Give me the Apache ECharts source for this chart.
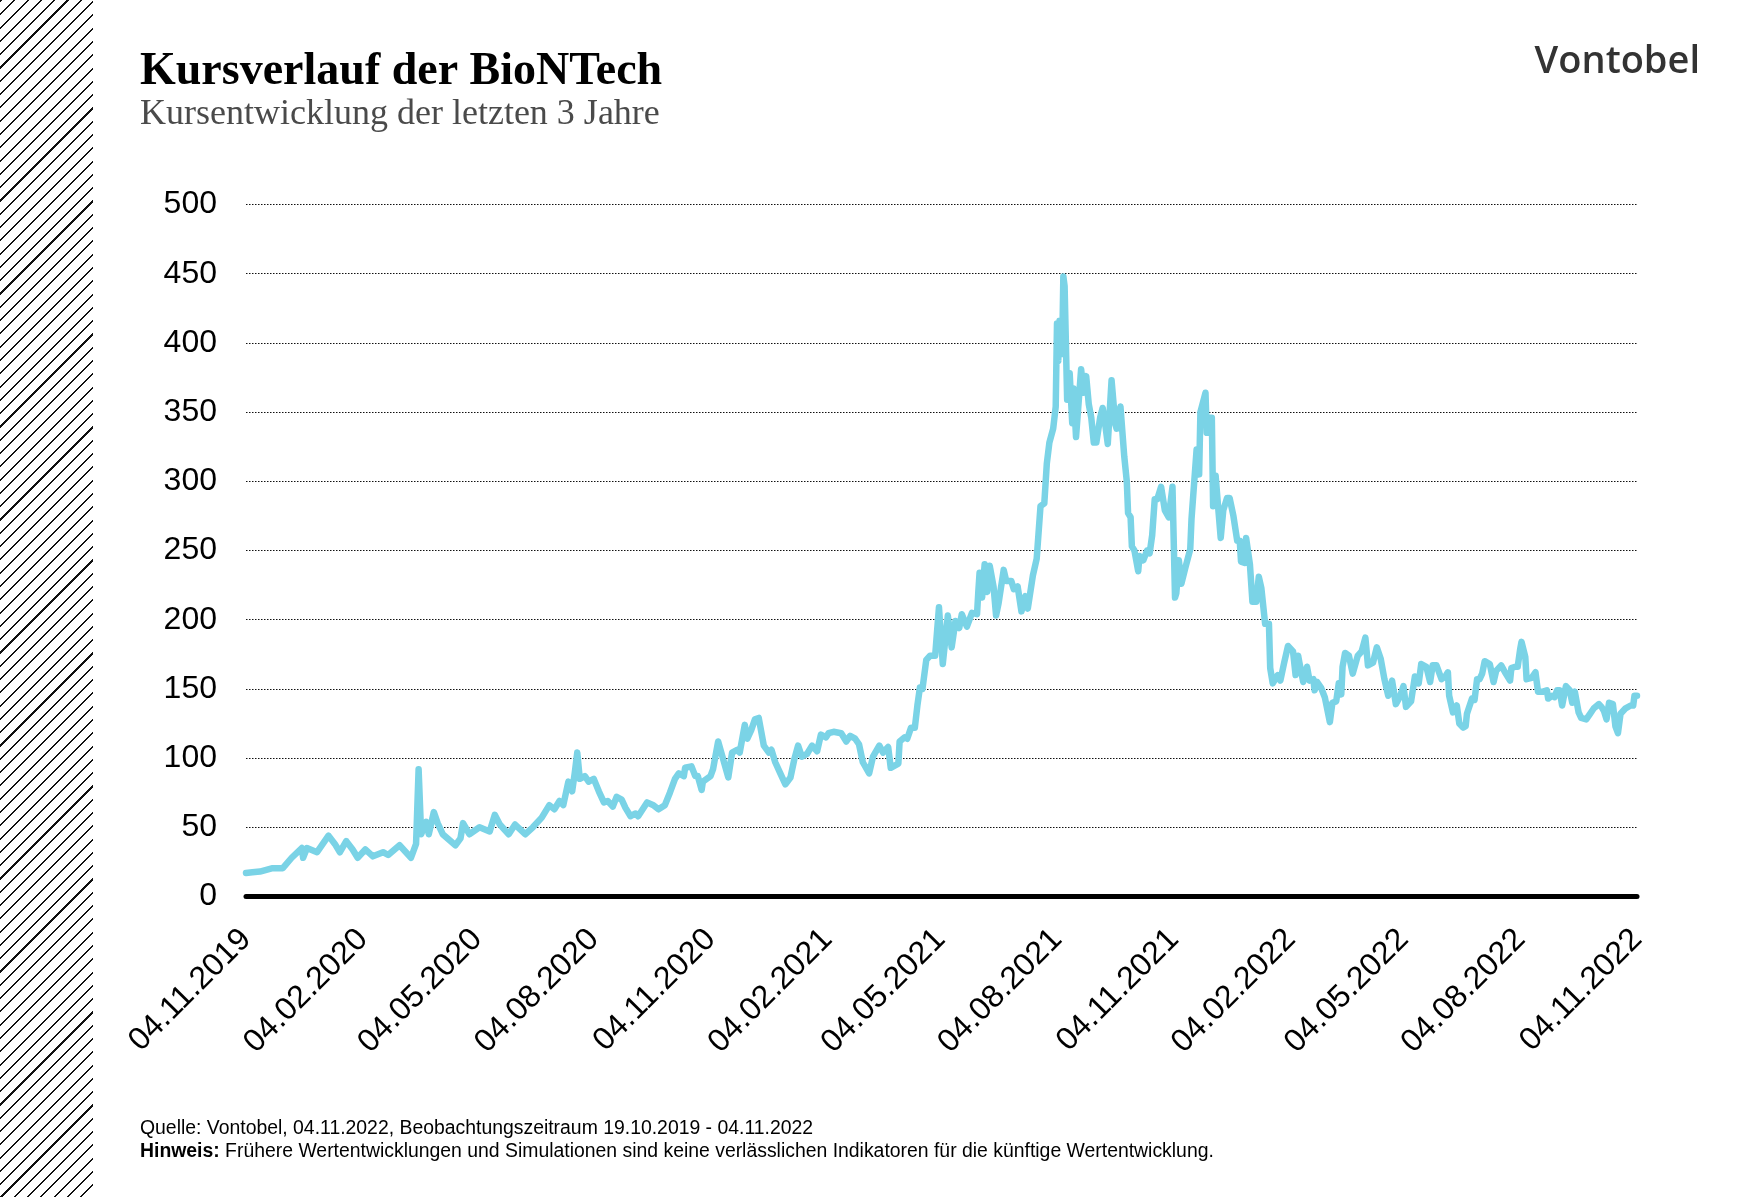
<!DOCTYPE html>
<html lang="de">
<head>
  <meta charset="UTF-8">
  <title>Kursverlauf der BioNTech</title>
  <script src="https://cdn.jsdelivr.net/npm/echarts@6.0.0/dist/echarts.min.js"></script>
  <style>
    html, body {
      margin: 0;
      padding: 0;
      background: #fff;
    }
    #hatch {
      position: absolute;
      left: 0;
      top: 0;
      width: 93px;
      height: 1197px;
      background: repeating-linear-gradient(-45deg, #fff 0, #fff 7.9px, #111 7.9px, #111 9.4px);
    }
    #main {
      position: absolute;
      left: 0;
      top: 0;
      width: 1746px;
      height: 1197px;
    }
  </style>
</head>
<body>
  <div id="hatch"></div>
  <div id="main"></div>

  <script>
    // Tage seit 04.11.2019 und Schlusskurse
    const days = [
      0, 5, 11, 21, 29, 36, 44, 45, 48, 56, 65, 70, 74, 79, 84, 88, 94, 100, 108, 112,
      121, 130, 134, 136, 138, 142, 144, 148, 151, 155, 165, 169, 171, 176, 184, 192, 196, 200, 207, 212,
      220, 226, 233, 239, 243, 247, 250, 254, 257, 259, 261, 263, 267, 270, 274, 278, 282, 285, 289, 292,
      296, 299, 303, 307, 309, 316, 321, 325, 330, 334, 338, 341, 345, 346, 351, 354, 356, 359, 360, 366,
      368, 372, 376, 380, 383, 387, 389, 393, 395, 398, 401, 404, 408, 412, 414, 417, 421, 425, 429, 432,
      435, 438, 442, 446, 450, 453, 457, 459, 463, 469, 473, 476, 480, 483, 486, 491, 494, 499, 502, 506,
      508, 514, 515, 519, 521, 524, 527, 529, 531, 533, 536, 539, 543, 546, 549, 553, 556, 559, 562, 564,
      568, 572, 576, 577, 578, 580, 582, 584, 586, 589, 591, 593, 597, 599, 603, 605, 608, 611, 614, 616,
      620, 623, 626, 629, 631, 633, 636, 638, 639, 640, 641, 643, 644, 645, 647, 649, 651, 652, 654, 658,
      660, 662, 664, 666, 668, 670, 673, 675, 677, 679, 682, 685, 686, 689, 692, 694, 695, 697, 698, 700,
      703, 704, 707, 710, 712, 714, 716, 718, 721, 724, 727, 730, 732, 733, 735, 737, 740, 744, 745, 746,
      749, 751, 752, 756, 757, 759, 761, 762, 764, 766, 768, 770, 773, 775, 778, 781, 783, 784, 787, 788,
      791, 793, 796, 798, 800, 803, 806, 807, 809, 813, 815, 818, 821, 825, 827, 829, 830, 833, 836, 838,
      841, 842, 844, 847, 850, 854, 856, 859, 861, 863, 864, 866, 869, 872, 876, 879, 882, 884, 888, 891,
      894, 897, 900, 903, 906, 909, 912, 914, 918, 921, 924, 926, 930, 933, 935, 938, 942, 945, 947, 948,
      951, 954, 956, 959, 961, 962, 966, 968, 970, 972, 974, 976, 980, 983, 985, 989, 992, 996, 997, 1000,
      1002, 1004, 1005, 1008, 1009, 1013, 1016, 1018, 1022, 1025, 1026, 1029, 1031, 1033, 1035, 1037, 1040, 1043, 1045, 1047,
      1050, 1052, 1056, 1059, 1062, 1066, 1068, 1070, 1072, 1074, 1077, 1079, 1081, 1083, 1087, 1091, 1093, 1094, 1096
    ];
    const prices = [
      17, 17.5, 18, 20.5, 20.5, 28, 35, 28, 35, 32, 44, 38, 32, 40, 34, 28, 34, 29, 32, 30,
      37, 28, 38, 92, 45, 54, 45, 61, 53, 45, 37, 42, 53, 45, 50, 47, 59, 52, 45, 52,
      45, 50, 57, 66, 63, 69, 66, 83, 76, 89, 104, 85, 87, 83, 85, 76, 68, 69, 65, 72,
      70, 64, 58, 60, 58, 68, 66, 63, 66, 75, 85, 89, 87, 93, 94, 87, 87, 77, 83, 87,
      92, 112, 99, 86, 104, 106, 104, 124, 114, 120, 128, 129, 109, 104, 106, 97, 89, 81, 86, 99,
      109, 101, 103, 109, 105, 117, 115, 118, 119, 118, 112, 116, 114, 110, 97, 89, 101, 109, 104, 108,
      93, 96, 112, 115, 114, 122, 122, 138, 151, 150, 171, 174, 174, 209, 168, 203, 180, 199, 194, 204,
      195, 205, 204, 220, 234, 216, 240, 220, 239, 224, 203, 212, 236, 228, 228, 222, 224, 206, 217, 208,
      232, 244, 282, 284, 313, 328, 338, 354, 414, 387, 416, 392, 448, 441, 359, 378, 342, 367, 332, 381,
      364, 376, 356, 346, 328, 328, 346, 353, 341, 327, 373, 341, 338, 354, 318, 300, 277, 274, 253, 250,
      235, 246, 243, 250, 248, 261, 287, 287, 296, 279, 274, 296, 216, 219, 243, 226, 237, 251, 273, 274,
      323, 305, 350, 364, 335, 346, 346, 282, 304, 281, 259, 279, 288, 288, 275, 257, 257, 242, 241, 259,
      240, 213, 213, 231, 223, 197, 197, 165, 154, 160, 156, 169, 181, 177, 160, 174, 169, 155, 166, 156,
      157, 149, 155, 151, 144, 126, 140, 141, 154, 146, 166, 176, 174, 161, 174, 177, 187, 167, 169, 180,
      172, 157, 145, 156, 139, 144, 152, 137, 141, 159, 154, 168, 166, 155, 167, 167, 157, 159, 162, 145,
      133, 138, 125, 122, 123, 132, 143, 142, 157, 157, 161, 170, 168, 155, 163, 167, 162, 156, 165, 166,
      166, 179, 184, 173, 157, 158, 162, 148, 148, 149, 143, 145, 144, 149, 149, 138, 152, 149, 140, 148,
      133, 129, 128, 132, 136, 139, 137, 134, 128, 140, 139, 123, 118, 132, 136, 138, 138, 145, 145
    ];

    const tickDays = [0, 92, 182, 274, 366, 458, 547, 639, 731, 823, 912, 1004, 1096];
    const tickLabels = [
      '04.11.2019', '04.02.2020', '04.05.2020', '04.08.2020', '04.11.2020', '04.02.2021',
      '04.05.2021', '04.08.2021', '04.11.2021', '04.02.2022', '04.05.2022', '04.08.2022', '04.11.2022'
    ];

    const seriesData = days.map((d, i) => [d, prices[i]]);

    const chart = echarts.init(document.getElementById('main'), null, { renderer: 'canvas' });

    const option = {
      animation: false,
      grid: { left: 246, right: 109, top: 204.5, bottom: 300.5 },
      xAxis: {
        type: 'value',
        min: 0,
        max: 1096,
        axisLine: { show: true, onZero: true, lineStyle: { color: '#000', width: 5 } },
        axisTick: { show: false },
        splitLine: { show: false },
        axisLabel: {
          customValues: tickDays,
          formatter: v => tickLabels[tickDays.indexOf(v)] || '',
          rotate: 45,
          margin: 38,
          fontFamily: 'Liberation Sans',
          fontSize: 32,
          color: '#000'
        }
      },
      yAxis: {
        type: 'value',
        min: 0,
        max: 500,
        interval: 50,
        axisLine: { show: false },
        axisTick: { show: false },
        axisLabel: {
          margin: 29,
          fontFamily: 'Liberation Sans',
          fontSize: 32,
          color: '#000'
        },
        splitLine: {
          lineStyle: { color: '#111', width: 1, type: [1.5, 1.5] }
        }
      },
      series: [{
        type: 'line',
        data: seriesData,
        showSymbol: false,
        symbol: 'none',
        lineStyle: { color: '#7AD3E6', width: 6.5, join: 'round', cap: 'round' },
        z: 3
      }],
      graphic: [
        {
          type: 'text', left: 140, top: 49,
          style: { text: 'Kursverlauf der BioNTech', font: 'bold 46px "Liberation Serif"', fill: '#000' }
        },
        {
          type: 'text', left: 140, top: 97,
          style: { text: 'Kursentwicklung der letzten 3 Jahre', font: '36px "Liberation Serif"', fill: '#4a4a4a' }
        },
        {
          type: 'text', right: 46, top: 43,
          style: { text: 'Vontobel', font: '600 38px "Open Sans"', fill: '#333' }
        },
        {
          type: 'text', left: 140, top: 1117,
          style: {
            text: 'Quelle: Vontobel, 04.11.2022, Beobachtungszeitraum 19.10.2019 - 04.11.2022\n{b|Hinweis:} Frühere Wertentwicklungen und Simulationen sind keine verlässlichen Indikatoren für die künftige Wertentwicklung.',
            font: '19.4px "Liberation Sans"',
            lineHeight: 23,
            fill: '#000',
            rich: { b: { fontWeight: 'bold', fontSize: 19.4, fontFamily: 'Liberation Sans', lineHeight: 23 } }
          }
        }
      ]
    };

    chart.setOption(option);
  </script>
</body>
</html>
